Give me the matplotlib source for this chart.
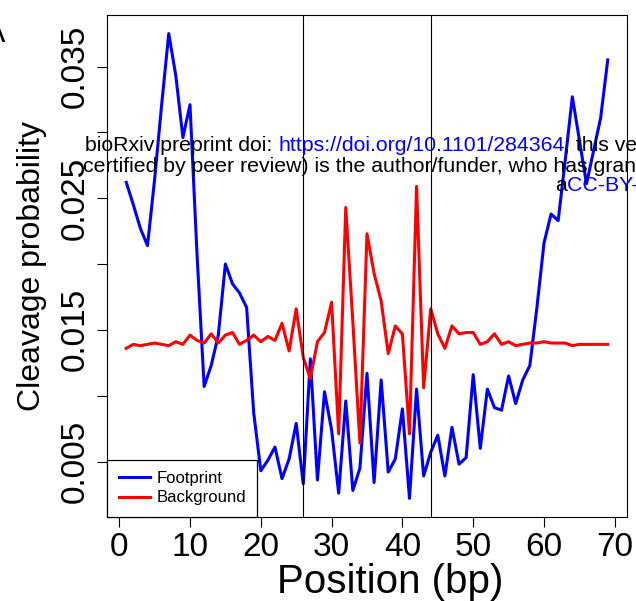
import numpy as np
import matplotlib
matplotlib.use("Agg")
import matplotlib.pyplot as plt

plt.rcParams['font.family'] = ['Liberation Sans', 'DejaVu Sans']

# positions (bp) and cleavage probabilities
position = np.arange(1, 70)
footprint = [0.0262, 0.0245, 0.0227, 0.0214, 0.0264, 0.0321, 0.0375, 0.0343, 0.0296, 0.0321,
             0.0207, 0.0107, 0.0123, 0.0146, 0.0200, 0.0185, 0.0178, 0.0167, 0.0087, 0.0043,
             0.0051, 0.0061, 0.0037, 0.0052, 0.0079, 0.0033, 0.0128, 0.0036, 0.0103, 0.0074,
             0.0026, 0.0096, 0.0028, 0.0045, 0.0117, 0.0034, 0.0112, 0.0042, 0.0052, 0.0090,
             0.0022, 0.0105, 0.0039, 0.0057, 0.0070, 0.0039, 0.0076, 0.0048, 0.0053, 0.0116,
             0.0060, 0.0105, 0.0091, 0.0089, 0.0115, 0.0094, 0.0112, 0.0123, 0.0167, 0.0216,
             0.0238, 0.0233, 0.0279, 0.0327, 0.0294, 0.0261, 0.0286, 0.0311, 0.0355]
background = [0.0136, 0.0139, 0.0138, 0.0139, 0.0140, 0.0139, 0.0138, 0.0141, 0.0139, 0.0146,
              0.0142, 0.0140, 0.0147, 0.0140, 0.0146, 0.0148, 0.0139, 0.0142, 0.0146, 0.0141,
              0.0145, 0.0142, 0.0155, 0.0134, 0.0166, 0.0129, 0.0113, 0.0141, 0.0148, 0.0171,
              0.0071, 0.0243, 0.0156, 0.0064, 0.0223, 0.0193, 0.0172, 0.0132, 0.0153, 0.0147,
              0.0071, 0.0259, 0.0106, 0.0166, 0.0147, 0.0136, 0.0153, 0.0147, 0.0148, 0.0148,
              0.0139, 0.0141, 0.0147, 0.0139, 0.0141, 0.0138, 0.0139, 0.0140, 0.0140, 0.0141,
              0.0140, 0.0140, 0.0140, 0.0138, 0.0139, 0.0139, 0.0139, 0.0139, 0.0139]
motif_edges = [26, 44]
yticks = [0.005, 0.010, 0.015, 0.020, 0.025, 0.030, 0.035]
ytick_labels = ['0.005', '', '0.015', '', '0.025', '', '0.035']
xticks = [0, 10, 20, 30, 40, 50, 60, 70]

fig = plt.figure(figsize=(6.36, 6.01), dpi=100)
ax = fig.add_axes([107 / 636, 1 - 517 / 601, 520 / 636, 502 / 601])

ax.plot(position, footprint, color='#0000ff', lw=2.2, label='Footprint')
ax.plot(position, background, color='#ff0000', lw=2.2, label='Background')
for e in motif_edges:
    ax.axvline(e, color='black', lw=0.8)

# R style 4% axis expansion
allv = np.concatenate([footprint, background])
lo, hi = allv.min(), allv.max()
ax.set_ylim(lo - 0.04 * (hi - lo), hi + 0.04 * (hi - lo))
ax.set_xlim(1 - 0.04 * 68, 69 + 0.04 * 68)

ax.set_yticks(yticks)
ax.set_yticklabels(ytick_labels, rotation=90, va='center')
ax.set_xticks(xticks)
ax.tick_params(axis='both', direction='out', length=7, width=0.8, labelsize=24)
ax.tick_params(axis='y', pad=5)
ax.tick_params(axis='x', pad=4)
for s in ax.spines.values():
    s.set_linewidth(0.8)

ax.set_xlabel('Position (bp)', fontsize=29, va='baseline')
ax.xaxis.set_label_coords((390 - 107) / 520, (517 - 593) / 502)
ax.set_ylabel('Cleavage probability', fontsize=23, labelpad=9)

leg = ax.legend(loc='lower left', borderaxespad=0, fancybox=False, edgecolor='black',
                fontsize=12, handlelength=1.85, handletextpad=0.4, labelspacing=0.25,
                borderpad=0.7, framealpha=1)
leg.get_frame().set_linewidth(0.9)

# bioRxiv header overlaid on the page
fs = 15.3
blue = '#0000ff'
t0 = fig.text(85 / 636, 1 - 151 / 601, 'bioRxiv preprint doi: ', fontsize=fs, color='black')
t1 = ax.annotate('https://doi.org/10.1101/284364', xy=(1, 0), xycoords=t0, va='bottom',
                 ha='left', fontsize=fs, color=blue, annotation_clip=False)
ax.annotate('; this version posted March 19, 2018. The copyright holder for this preprint',
            xy=(1, 0), xycoords=t1, va='bottom', ha='left', fontsize=fs, color='black',
            annotation_clip=False)
fig.text(83 / 636, 1 - 172 / 601,
         'certified by peer review) is the author/funder, who has granted bioRxiv a license',
         fontsize=fs, color='black')
t2 = fig.text(555 / 636, 1 - 191 / 601, 'a', fontsize=fs, color='black')
ax.annotate('CC-BY-NC-ND 4.0 International license', xy=(1, 0), xycoords=t2, va='bottom',
            ha='left', fontsize=fs, color=blue, annotation_clip=False)

fig.text(-15 / 636, 1 - 42 / 601, 'A', fontsize=22, color='black')

fig.savefig('out.png', dpi=100)
